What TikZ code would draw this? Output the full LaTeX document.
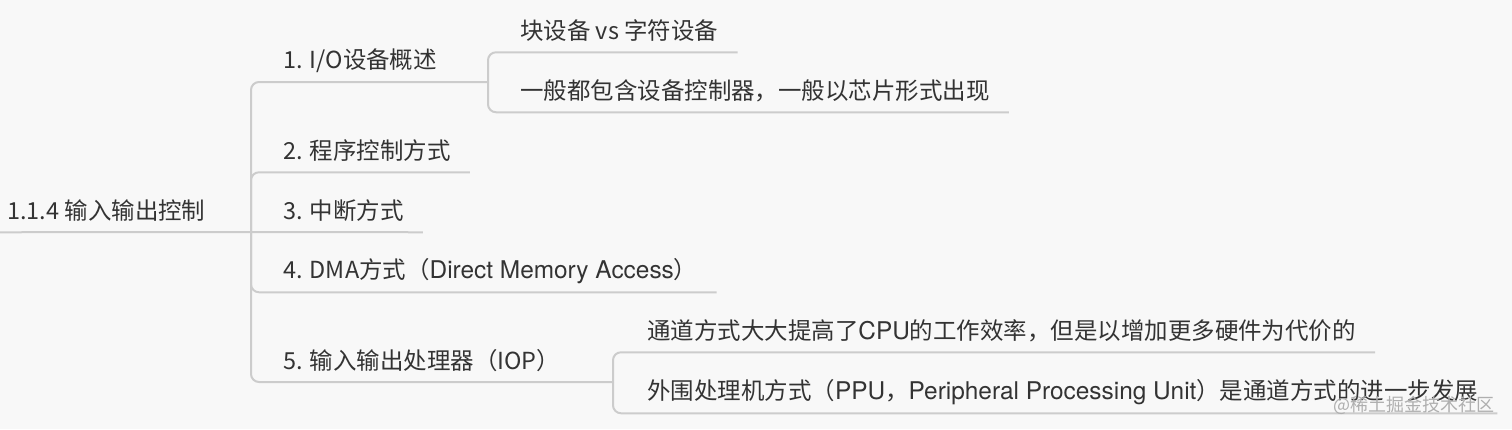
\documentclass[tikz,border=0pt]{standalone}
\usepackage{fontspec}
\setmainfont{Noto Sans CJK SC}
\newfontfamily\latin[Scale=1.04]{TeX Gyre Heros}
\usepackage{tikz}
\definecolor{bggray}{RGB}{248,248,248}
\definecolor{linegray}{RGB}{204,204,204}
\definecolor{textgray}{RGB}{51,51,51}
\definecolor{markgray}{RGB}{175,175,175}
\tikzset{
  topic/.style={anchor=west, inner xsep=14.25pt, inner ysep=0pt, minimum height=31.5pt,
    text=textgray, font=\fontsize{17.6}{20}\selectfont},
  link/.style={draw=linegray, line width=1.5pt, rounded corners=6pt},
}
\newcommand{\topic}[4]{\node[topic] (#1) at ( #2 , #3 ) {#4};}
\newcommand{\link}[2]{\draw[link] (#1) |- (#2);}
\newcommand{\lat}[1]{{\latin #1}}

\begin{document}
\begin{tikzpicture}[x=0.75pt,y=-0.75pt]
        \fill[bggray] (0,0) rectangle (1512,429);
        \useasboundingbox (0,0) rectangle (1512,429);
        % root
        \node[topic, inner xsep=5.25pt] (root) at (0,211) {1.1.4 输入输出控制};
        \coordinate (trunk) at (251,232);
        \coordinate (fork1) at (488,82);
        \coordinate (fork5) at (613,382);
        % branches
        \topic{io}{264}{61}{1. I/O设备概述}
        \topic{prog}{264}{151}{2. 程序控制方式}
        \topic{intr}{264}{211}{3. 中断方式}
        \topic{dma}{264}{271}{4. DMA方式（\lat{Direct Memory Access}）}
        \topic{iop}{264}{361}{5. 输入输出处理器（IOP）}
        % leaves of branch1
        \topic{blk}{501}{31}{块设备 vs 字符设备}
        \topic{ctrl}{501}{91}{一般都包含设备控制器，一般以芯片形式出现}
        % leaves of branch5
        \topic{chan}{628}{331}{通道方式大大提高了\lat{CPU}的工作效率，但是以增加更多硬件为代价的}
        \topic{ppu}{628}{392}{外围处理机方式（\lat{PPU}，\lat{Peripheral Processing Unit}）是通道方式的进一步发展}
        % links
        \draw[link] (root.south west) -- (trunk);
        \link{trunk}{fork1}
        \link{trunk}{prog.south east}
        \draw[link] (trunk) -- (intr.south east);
        \link{trunk}{dma.south east}
        \link{trunk}{fork5}
        \link{fork1}{blk.south east}
        \link{fork1}{ctrl.south east}
        \link{fork5}{chan.south east}
        \link{fork5}{ppu.south east}
        % watermark
        \node[anchor=east, inner sep=0pt, text=markgray, font=\fontsize{13.5}{15}\selectfont] (mark) at (1495,405) {@稀土掘金技术社区};
    \end{tikzpicture}
\end{document}
